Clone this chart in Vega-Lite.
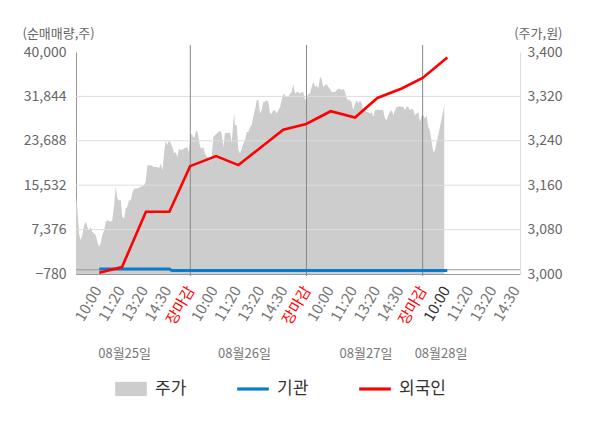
{
  "$schema": "https://vega.github.io/schema/vega-lite/v6.json",
  "width": 444,
  "height": 222,
  "autosize": {"type": "none"},
  "padding": {"left": 76, "top": 52, "right": 80, "bottom": 154},
  "datasets": {
    "price": [
      {"slot":0.08,"price":3139},{"slot":0.14,"price":3118},{"slot":0.21,"price":3073},{"slot":0.28,"price":3061},
      {"slot":0.35,"price":3070},{"slot":0.43,"price":3088},{"slot":0.50,"price":3094},{"slot":0.57,"price":3085},
      {"slot":0.64,"price":3079},{"slot":0.71,"price":3085},{"slot":0.78,"price":3076},{"slot":0.86,"price":3073},
      {"slot":0.93,"price":3070},{"slot":1.00,"price":3058},{"slot":1.07,"price":3049},{"slot":1.14,"price":3055},
      {"slot":1.21,"price":3070},{"slot":1.29,"price":3079},{"slot":1.36,"price":3094},{"slot":1.43,"price":3097},
      {"slot":1.57,"price":3094},{"slot":1.64,"price":3097},{"slot":1.72,"price":3124},{"slot":1.79,"price":3157},
      {"slot":1.86,"price":3136},{"slot":1.93,"price":3133},{"slot":2.01,"price":3133},{"slot":2.07,"price":3103},
      {"slot":2.15,"price":3100},{"slot":2.22,"price":3118},{"slot":2.29,"price":3121},{"slot":2.36,"price":3133},
      {"slot":2.44,"price":3133},{"slot":2.50,"price":3145},{"slot":2.58,"price":3154},{"slot":2.72,"price":3154},
      {"slot":2.87,"price":3157},{"slot":3.01,"price":3160},{"slot":3.08,"price":3166},{"slot":3.15,"price":3196},
      {"slot":3.30,"price":3196},{"slot":3.44,"price":3193},{"slot":3.58,"price":3193},{"slot":3.65,"price":3190},
      {"slot":3.73,"price":3199},{"slot":3.80,"price":3187},{"slot":3.87,"price":3217},{"slot":3.94,"price":3241},
      {"slot":4.01,"price":3232},{"slot":4.08,"price":3241},{"slot":4.16,"price":3235},{"slot":4.23,"price":3229},
      {"slot":4.30,"price":3217},{"slot":4.37,"price":3220},{"slot":4.44,"price":3211},{"slot":4.51,"price":3226},
      {"slot":4.59,"price":3223},{"slot":4.73,"price":3226},{"slot":4.87,"price":3229},{"slot":4.94,"price":3220},
      {"slot":5.02,"price":3253},{"slot":5.09,"price":3250},{"slot":5.16,"price":3244},{"slot":5.23,"price":3256},
      {"slot":5.29,"price":3258},{"slot":5.34,"price":3250},{"slot":5.42,"price":3229},{"slot":5.49,"price":3226},
      {"slot":5.56,"price":3229},{"slot":5.63,"price":3217},{"slot":5.71,"price":3211},{"slot":5.77,"price":3211},
      {"slot":5.85,"price":3205},{"slot":5.92,"price":3211},{"slot":5.99,"price":3247},{"slot":6.06,"price":3250},
      {"slot":6.14,"price":3253},{"slot":6.20,"price":3256},{"slot":6.28,"price":3258},{"slot":6.35,"price":3253},
      {"slot":6.42,"price":3229},{"slot":6.49,"price":3254},{"slot":6.64,"price":3254},{"slot":6.71,"price":3256},
      {"slot":6.78,"price":3235},{"slot":6.85,"price":3274},{"slot":6.89,"price":3289},{"slot":6.92,"price":3268},
      {"slot":7.00,"price":3268},{"slot":7.07,"price":3223},{"slot":7.14,"price":3217},{"slot":7.21,"price":3226},
      {"slot":7.28,"price":3235},{"slot":7.35,"price":3241},{"slot":7.43,"price":3256},{"slot":7.50,"price":3256},
      {"slot":7.57,"price":3265},{"slot":7.64,"price":3268},{"slot":7.71,"price":3283},{"slot":7.78,"price":3295},
      {"slot":7.86,"price":3313},{"slot":7.93,"price":3314},{"slot":8.00,"price":3289},{"slot":8.07,"price":3295},
      {"slot":8.14,"price":3310},{"slot":8.21,"price":3310},{"slot":8.29,"price":3313},{"slot":8.36,"price":3310},
      {"slot":8.43,"price":3289},{"slot":8.50,"price":3289},{"slot":8.57,"price":3295},{"slot":8.64,"price":3295},
      {"slot":8.72,"price":3289},{"slot":8.79,"price":3295},{"slot":8.86,"price":3301},{"slot":8.93,"price":3313},
      {"slot":9.00,"price":3325},{"slot":9.07,"price":3322},{"slot":9.15,"price":3319},{"slot":9.22,"price":3319},
      {"slot":9.29,"price":3325},{"slot":9.36,"price":3328},{"slot":9.43,"price":3342},{"slot":9.51,"price":3325},
      {"slot":9.58,"price":3328},{"slot":9.65,"price":3328},{"slot":9.72,"price":3325},{"slot":9.79,"price":3328},
      {"slot":9.86,"price":3328},{"slot":9.94,"price":3313},{"slot":10.01,"price":3319},{"slot":10.08,"price":3325},
      {"slot":10.15,"price":3325},{"slot":10.22,"price":3337},{"slot":10.29,"price":3346},{"slot":10.37,"price":3337},
      {"slot":10.44,"price":3340},{"slot":10.51,"price":3334},{"slot":10.58,"price":3355},{"slot":10.65,"price":3352},
      {"slot":10.72,"price":3337},{"slot":10.80,"price":3340},{"slot":10.87,"price":3343},{"slot":10.94,"price":3337},
      {"slot":11.01,"price":3334},{"slot":11.08,"price":3328},{"slot":11.15,"price":3328},{"slot":11.23,"price":3328},
      {"slot":11.30,"price":3331},{"slot":11.37,"price":3334},{"slot":11.44,"price":3334},{"slot":11.51,"price":3331},
      {"slot":11.58,"price":3334},{"slot":11.66,"price":3328},{"slot":11.73,"price":3316},{"slot":11.80,"price":3313},
      {"slot":11.87,"price":3313},{"slot":11.94,"price":3310},{"slot":12.01,"price":3295},{"slot":12.09,"price":3307},
      {"slot":12.16,"price":3313},{"slot":12.23,"price":3307},{"slot":12.30,"price":3313},{"slot":12.38,"price":3307},
      {"slot":12.44,"price":3292},{"slot":12.52,"price":3295},{"slot":12.59,"price":3292},{"slot":12.66,"price":3292},
      {"slot":12.73,"price":3289},{"slot":12.81,"price":3292},{"slot":12.87,"price":3283},{"slot":12.95,"price":3295},
      {"slot":13.02,"price":3296},{"slot":13.16,"price":3296},{"slot":13.30,"price":3295},{"slot":13.38,"price":3280},
      {"slot":13.45,"price":3277},{"slot":13.52,"price":3286},{"slot":13.59,"price":3292},{"slot":13.67,"price":3295},
      {"slot":13.74,"price":3286},{"slot":13.81,"price":3295},{"slot":13.88,"price":3301},{"slot":14.02,"price":3302},
      {"slot":14.17,"price":3301},{"slot":14.24,"price":3295},{"slot":14.31,"price":3302},{"slot":14.38,"price":3301},
      {"slot":14.45,"price":3295},{"slot":14.53,"price":3298},{"slot":14.60,"price":3295},{"slot":14.67,"price":3286},
      {"slot":14.74,"price":3289},{"slot":14.81,"price":3292},{"slot":14.88,"price":3274},{"slot":14.96,"price":3286},
      {"slot":15.03,"price":3286},{"slot":15.10,"price":3280},{"slot":15.17,"price":3286},{"slot":15.24,"price":3265},
      {"slot":15.31,"price":3259},{"slot":15.39,"price":3238},{"slot":15.46,"price":3220},{"slot":15.53,"price":3223},
      {"slot":15.60,"price":3238},{"slot":15.67,"price":3250},{"slot":15.74,"price":3265},{"slot":15.82,"price":3280},
      {"slot":15.89,"price":3295},{"slot":15.93,"price":3304}
    ],
    "flows": [
      {"series":"기관","slot":1.08,"value":120},{"series":"기관","slot":2.06,"value":120},
      {"series":"기관","slot":3.09,"value":120},{"series":"기관","slot":4.10,"value":120},
      {"series":"기관","slot":4.20,"value":-150},{"series":"기관","slot":6.11,"value":-150},
      {"series":"기관","slot":7.07,"value":-150},{"series":"기관","slot":8.03,"value":-150},
      {"series":"기관","slot":9.00,"value":-150},{"series":"기관","slot":9.99,"value":-150},
      {"series":"기관","slot":11.04,"value":-150},{"series":"기관","slot":12.09,"value":-150},
      {"series":"기관","slot":13.05,"value":-150},{"series":"기관","slot":14.10,"value":-150},
      {"series":"기관","slot":15.00,"value":-150},{"series":"기관","slot":16.06,"value":-150},
      {"series":"외국인","slot":1.08,"value":-540},{"series":"외국인","slot":2.06,"value":500},
      {"series":"외국인","slot":3.09,"value":10650},{"series":"외국인","slot":4.10,"value":10650},
      {"series":"외국인","slot":4.99,"value":19030},{"series":"외국인","slot":6.11,"value":20870},
      {"series":"외국인","slot":7.07,"value":19220},{"series":"외국인","slot":8.03,"value":22460},
      {"series":"외국인","slot":9.00,"value":25730},{"series":"외국인","slot":9.99,"value":26790},
      {"series":"외국인","slot":11.04,"value":29120},{"series":"외국인","slot":12.09,"value":27970},
      {"series":"외국인","slot":13.05,"value":31560},{"series":"외국인","slot":14.10,"value":33290},
      {"series":"외국인","slot":15.00,"value":35230},{"series":"외국인","slot":16.06,"value":38970}
    ],
    "grid": [{"v":0},{"v":7376},{"v":15532},{"v":23688},{"v":31844}],
    "days": [{"slot":5},{"slot":10},{"slot":15}],
    "legend": [{"series":"주가"},{"series":"기관"},{"series":"외국인"}]
  },
  "layer": [
    {
      "data": {"name": "price"},
      "mark": {"type": "area", "color": "#cdcdcd"},
      "encoding": {
        "x": {
          "field": "slot",
          "type": "quantitative",
          "scale": {"domain": [0.08, 19.19], "nice": false, "zero": false},
          "axis": {
            "orient": "bottom",
            "values": [1,2,3,4,5,6,7,8,9,10,11,12,13,14,15,16,17,18,19],
            "labelExpr": "datum.value % 5 == 1 ? '10:00' : datum.value % 5 == 2 ? '11:20' : datum.value % 5 == 3 ? '13:20' : datum.value % 5 == 4 ? '14:30' : '장마감'",
            "labelColor": {"expr": "datum.value % 5 == 0 ? '#ff0000' : datum.value == 16 ? '#333333' : '#777777'"},
            "labelAngle": -60,
            "labelAlign": "right",
            "labelBaseline": "middle",
            "labelFontSize": 15,
            "labelPadding": 13,
            "labelOverlap": false,
            "labelBound": false,
            "labelFlush": false,
            "ticks": false,
            "tickSize": 0,
            "grid": false,
            "domainColor": "#999999",
            "title": null
          }
        },
        "y": {
          "field": "price",
          "type": "quantitative",
          "scale": {"domain": [3000, 3400], "nice": false, "zero": false},
          "axis": {
            "orient": "right",
            "values": [3000, 3080, 3160, 3240, 3320, 3400],
            "format": ",.0f",
            "labelFontSize": 14,
            "labelColor": "#666666",
            "labelPadding": 7,
            "ticks": false,
            "tickSize": 0,
            "grid": false,
            "domainColor": "#dddddd",
            "title": "(주가,원)",
            "titleAngle": 0,
            "titleAlign": "right",
            "titleBaseline": "middle",
            "titleX": 42,
            "titleY": -19,
            "titleFontSize": 13,
            "titleFontWeight": "normal",
            "titleColor": "#666666"
          }
        },
        "y2": {"datum": 3000}
      }
    },
    {
      "layer": [
        {
          "data": {"name": "grid"},
          "mark": {"type": "rule", "strokeWidth": 1},
          "encoding": {
            "y": {
              "field": "v",
              "type": "quantitative",
              "scale": {"domain": [-780, 40000], "nice": false, "zero": false},
              "axis": {
                "orient": "left",
                "values": [-780, 7376, 15532, 23688, 31844, 40000],
                "format": ",.0f",
                "labelFontSize": 14,
                "labelColor": "#666666",
                "labelPadding": 10,
                "ticks": false,
                "tickSize": 0,
                "grid": false,
                "domainColor": "#999999",
                "title": "(순매매량,주)",
                "titleAngle": 0,
                "titleAlign": "left",
                "titleBaseline": "middle",
                "titleX": -54,
                "titleY": -19,
                "titleFontSize": 13,
                "titleFontWeight": "normal",
                "titleColor": "#666666"
              }
            },
            "color": {"condition": {"test": "datum.v == 0", "value": "#999999"}, "value": "#dddddd"}
          }
        },
        {
          "data": {"name": "days"},
          "mark": {"type": "rule", "color": "#888888", "strokeWidth": 1},
          "encoding": {
            "x": {
              "field": "slot",
              "type": "quantitative",
              "scale": {"domain": [0.08, 19.19], "nice": false, "zero": false},
              "axis": {
                "orient": "bottom",
                "values": [2.15, 7.31, 12.54, 15.77],
                "labelExpr": "datum.value < 5 ? '08월25일' : datum.value < 10 ? '08월26일' : datum.value < 15 ? '08월27일' : '08월28일'",
                "labelAngle": 0,
                "labelAlign": "center",
                "labelBaseline": "middle",
                "labelFontSize": 13,
                "labelColor": "#777777",
                "labelPadding": 79,
                "labelOverlap": false,
                "labelBound": false,
                "labelFlush": false,
                "domain": false,
                "ticks": false,
                "grid": false,
                "title": null
              }
            },
            "y": {"datum": 41300},
            "y2": {"datum": -1150}
          }
        },
        {
          "data": {"name": "flows"},
          "transform": [{"filter": "datum.series == '기관'"}],
          "mark": {"type": "line", "color": "#0a7ccc", "strokeWidth": 3},
          "encoding": {
            "x": {"field": "slot", "type": "quantitative", "title": null},
            "y": {"field": "value", "type": "quantitative"}
          }
        },
        {
          "data": {"name": "flows"},
          "transform": [{"filter": "datum.series == '외국인'"}],
          "mark": {"type": "line", "color": "#ff0000", "strokeWidth": 2.6},
          "encoding": {
            "x": {"field": "slot", "type": "quantitative", "title": null},
            "y": {"field": "value", "type": "quantitative"}
          }
        },
        {
          "data": {"name": "legend"},
          "mark": {"type": "point", "filled": true, "opacity": 0},
          "encoding": {
            "color": {
              "field": "series",
              "type": "nominal",
              "scale": {"domain": ["주가", "기관", "외국인"], "range": ["#cdcdcd", "#0a7ccc", "#ff0000"]},
              "legend": {
                "title": null,
                "orient": "none",
                "legendX": 39,
                "legendY": 321,
                "direction": "horizontal",
                "symbolSize": 1000,
                "symbolOpacity": 1,
                "symbolStrokeWidth": 0,
                "labelFontSize": 17,
                "labelColor": "#333333",
                "labelOffset": 8,
                "columnPadding": 50,
                "padding": 0
              }
            },
            "shape": {
              "field": "series",
              "type": "nominal",
              "scale": {"domain": ["주가", "기관", "외국인"], "range": ["M-1,-0.45H1V0.45H-1Z", "M-1,-0.1H1V0.1H-1Z", "M-1,-0.1H1V0.1H-1Z"]},
              "legend": {
                "title": null,
                "orient": "none",
                "legendX": 39,
                "legendY": 321,
                "direction": "horizontal",
                "symbolSize": 1000,
                "symbolOpacity": 1,
                "symbolStrokeWidth": 0,
                "labelFontSize": 17,
                "labelColor": "#333333",
                "labelOffset": 8,
                "columnPadding": 50,
                "padding": 0
              }
            }
          }
        }
      ]
    }
  ],
  "resolve": {"scale": {"y": "independent", "x": "independent"}},
  "config": {
    "font": "Noto Sans CJK KR",
    "view": {"fill": "#f4f4f4", "stroke": null},
    "axis": {"labelFont": "Noto Sans CJK KR", "titleFont": "Noto Sans CJK KR"},
    "legend": {"labelFont": "Noto Sans CJK KR"}
  }
}
